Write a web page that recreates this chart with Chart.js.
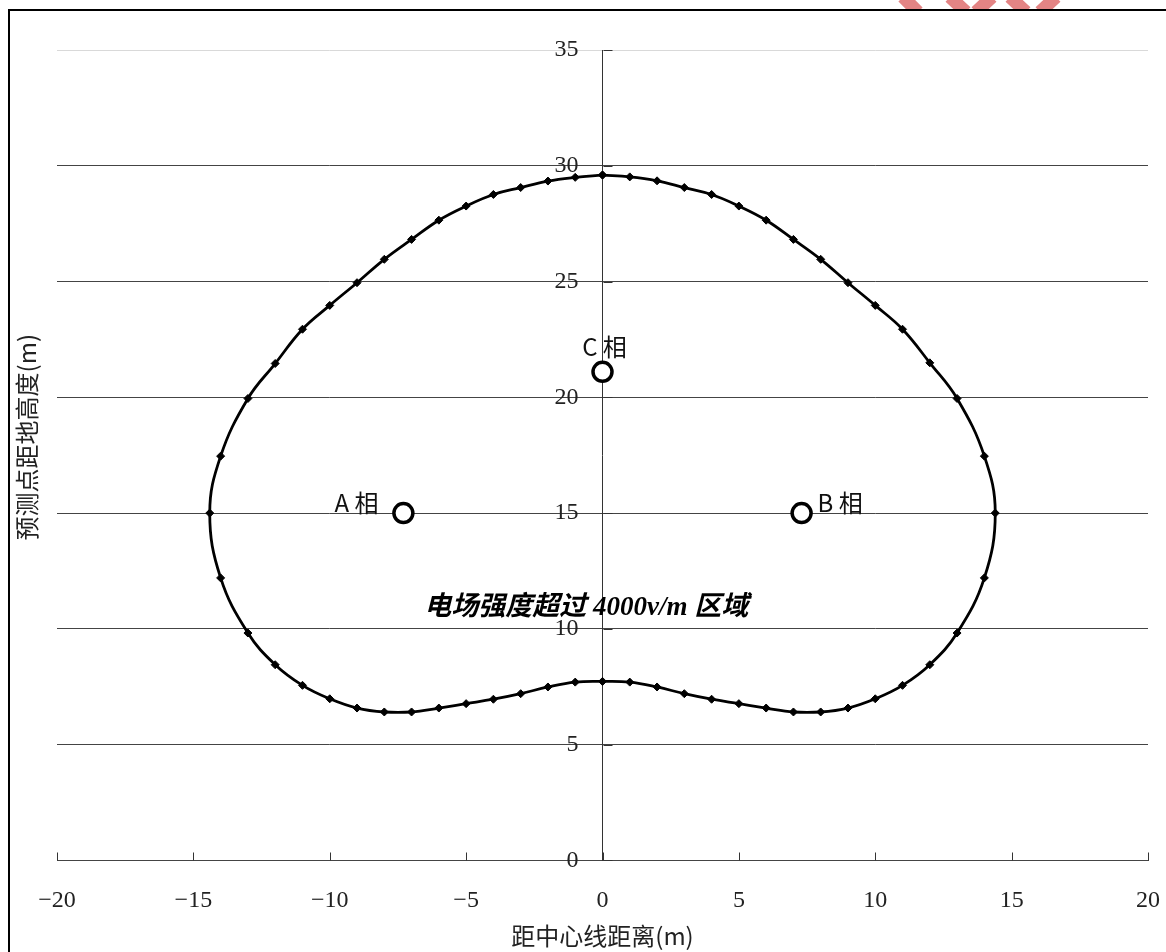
<!DOCTYPE html>
<html lang="zh">
<head>
<meta charset="utf-8">
<title>电场强度超过 4000v/m 区域</title>
<script src="https://cdn.jsdelivr.net/npm/chart.js@4.4.1/dist/chart.umd.min.js"></script>
<style>
    html, body {
        margin: 0;
        padding: 0;
        background: #fff;
        overflow: hidden;
    }

    #contenedor {
        position: relative;
        width: 1166px;
        height: 952px;
    }

    #marco {
        position: absolute;
        left: 8px;
        top: 9px;
        width: 1200px;
        height: 1000px;
        border-left: 2px solid #000;
        border-top: 2px solid #000;
        pointer-events: none;
    }
</style>
</head>
<body>
<div id="contenedor">
    <canvas id="graficaCampo" width="1166" height="952"></canvas>
    <div id="marco"></div>
</div>

<script>

/* ===================================== */
/* DATOS */
/* ===================================== */

// contorno de 4000 v/m, recorrido en orden empezando por arriba
const contornoX = [
    0, 1, 2, 3, 4, 5, 6, 7, 8, 9, 10, 11, 12, 13, 14, 14.4,
    14, 13, 12, 11, 10, 9, 8, 7, 6, 5, 4, 3, 2, 1, 0,
    -1, -2, -3, -4, -5, -6, -7, -8, -9, -10, -11, -12, -13, -14, -14.4,
    -14, -13, -12, -11, -10, -9, -8, -7, -6, -5, -4, -3, -2, -1, 0
];

const contornoY = [
    29.6, 29.52, 29.35, 29.06, 28.76, 28.26, 27.65, 26.82, 25.96, 24.95, 23.97, 22.94, 21.49, 19.95, 17.46, 15.0,
    12.2, 9.82, 8.45, 7.56, 6.98, 6.58, 6.41, 6.41, 6.58, 6.77, 6.96, 7.2, 7.49, 7.7, 7.73,
    7.7, 7.49, 7.2, 6.96, 6.77, 6.58, 6.41, 6.41, 6.58, 6.98, 7.56, 8.45, 9.82, 12.2, 15.0,
    17.46, 19.95, 21.46, 22.94, 23.97, 24.95, 25.96, 26.82, 27.65, 28.26, 28.76, 29.06, 29.34, 29.5, 29.6
];

// posición de los conductores
const faseX = [-7.3, 7.3, 0];
const faseY = [15, 15, 21.1];
const faseNombres = ["A 相", "B 相", "C 相"];

// escalas
const ejeXMin = -20;
const ejeXMax = 20;
const ejeXPaso = 5;
const ejeYMin = 0;
const ejeYMax = 35;
const ejeYPaso = 5;

const tituloX = "距中心线距离(m)";
const tituloY = "预测点距地高度(m)";
const textoZona = "电场强度超过 4000v/m 区域";
const zonaX = -0.6;
const zonaY = 10.9;

/* ===================================== */
/* PLUGIN: marcas, etiquetas y textos */
/* ===================================== */

const pluginDetalles = {

    id: "detalles",

    afterDatasetsDraw(chart) {

        const ctx = chart.ctx;
        const ejeX = chart.scales.x;
        const ejeY = chart.scales.y;
        const area = chart.chartArea;

        const x0 = Math.round(ejeX.getPixelForValue(0)) + 0.5;
        const y0 = Math.round(ejeY.getPixelForValue(0)) + 0.5;

        ctx.save();

        // marcas hacia dentro
        ctx.strokeStyle = "#333";
        ctx.lineWidth = 1;
        ctx.beginPath();

        ejeX.ticks.forEach((t) => {
            const px = Math.round(ejeX.getPixelForValue(t.value)) + 0.5;
            ctx.moveTo(px, y0);
            ctx.lineTo(px, y0 - 8);
        });

        ejeY.ticks.forEach((t) => {
            const py = Math.round(ejeY.getPixelForValue(t.value)) + 0.5;
            ctx.moveTo(x0, py);
            ctx.lineTo(x0 + 9, py);
        });

        ctx.stroke();

        // nombres de las fases
        ctx.fillStyle = "#111";
        ctx.font = "24px 'Noto Sans CJK SC', 'Noto Sans', sans-serif";
        ctx.textBaseline = "alphabetic";

        faseNombres.forEach((nombre, i) => {

            const px = ejeX.getPixelForValue(faseX[i]);
            const py = ejeY.getPixelForValue(faseY[i]);

            if (faseX[i] < 0) {
                ctx.textAlign = "right";
                ctx.fillText(nombre, px - 25, py - 1);
            } else if (faseX[i] > 0) {
                ctx.textAlign = "left";
                ctx.fillText(nombre, px + 16, py - 1);
            } else {
                ctx.textAlign = "center";
                ctx.fillText(nombre, px + 2, py - 16);
            }
        });

        // texto de la zona
        ctx.font = "italic bold 27px 'Liberation Serif', 'Noto Sans CJK SC', serif";
        ctx.textAlign = "center";
        ctx.textBaseline = "middle";
        ctx.fillStyle = "#000";
        ctx.fillText(
            textoZona,
            ejeX.getPixelForValue(zonaX),
            ejeY.getPixelForValue(zonaY)
        );

        // título del eje Y, a la izquierda del marco
        ctx.save();
        ctx.translate(area.left - 30, (area.top + area.bottom) / 2 - 18);
        ctx.rotate(-Math.PI / 2);
        ctx.font = "24px 'Noto Sans CJK SC', sans-serif";
        ctx.fillStyle = "#222";
        ctx.textAlign = "center";
        ctx.textBaseline = "middle";
        ctx.fillText(tituloY, 0, 0);
        ctx.restore();

        ctx.restore();
    },

    afterDraw(chart) {

        // restos de sello rojo sobre el borde superior
        const ctx = chart.ctx;

        ctx.save();
        ctx.beginPath();
        ctx.rect(0, 0, chart.width, 9);
        ctx.clip();

        ctx.strokeStyle = "rgba(222, 110, 110, 0.85)";
        ctx.lineWidth = 13;
        ctx.beginPath();
        ctx.moveTo(903, -3);  ctx.lineTo(918, 12);
        ctx.moveTo(950, -3);  ctx.lineTo(966, 12);
        ctx.moveTo(992, -3);  ctx.lineTo(976, 12);
        ctx.moveTo(1010, -3); ctx.lineTo(1026, 12);
        ctx.moveTo(1056, -3); ctx.lineTo(1040, 12);
        ctx.stroke();

        ctx.restore();
    }
};

/* ===================================== */
/* GRÁFICA */
/* ===================================== */

function dibujarGrafica() {

    const canvas = document.getElementById("graficaCampo");
    const ctx = canvas.getContext("2d");

    const puntosContorno = contornoX.map((x, i) => ({ x: x, y: contornoY[i] }));
    const puntosFase = faseX.map((x, i) => ({ x: x, y: faseY[i] }));

    new Chart(ctx, {

        type: "scatter",

        data: {

            datasets: [

                {
                    label: "fases",
                    data: puntosFase,
                    pointStyle: "circle",
                    pointRadius: 9.5,
                    pointBorderWidth: 3.5,
                    backgroundColor: "#fff",
                    borderColor: "#000",
                    order: 1
                },

                {
                    label: "contorno",
                    data: puntosContorno,
                    showLine: true,
                    tension: 0.4,
                    borderColor: "#000",
                    borderWidth: 2.8,
                    pointStyle: "rectRot",
                    pointRadius: 4,
                    pointBackgroundColor: "#000",
                    pointBorderColor: "#000",
                    pointBorderWidth: 1,
                    fill: false,
                    order: 2
                }
            ]
        },

        options: {

            responsive: false,
            animation: false,
            devicePixelRatio: 1,

            layout: {
                padding: {
                    left: 57,
                    right: 18,
                    top: 50,
                    bottom: 0
                }
            },

            plugins: {
                legend: { display: false },
                tooltip: { enabled: false }
            },

            scales: {

                x: {
                    type: "linear",
                    position: "bottom",
                    min: ejeXMin,
                    max: ejeXMax,

                    // la rejilla vertical no se ve; tickLength sólo separa las etiquetas
                    grid: {
                        display: false,
                        drawTicks: true,
                        tickLength: 26
                    },

                    border: {
                        display: true,
                        color: "#444",
                        width: 1
                    },

                    ticks: {
                        stepSize: ejeXPaso,
                        padding: 0,
                        color: "#222",
                        font: {
                            family: "'Liberation Serif', serif",
                            size: 24
                        },
                        maxRotation: 0,
                        callback: (v) => String(v).replace("-", "\u2212")
                    },

                    title: {
                        display: true,
                        text: tituloX,
                        color: "#222",
                        font: {
                            family: "'Noto Sans CJK SC', sans-serif",
                            size: 24
                        },
                        padding: { top: 6, bottom: 2 }
                    }
                },

                y: {
                    type: "linear",
                    position: { x: 0 },
                    min: ejeYMin,
                    max: ejeYMax,

                    grid: {
                        display: true,
                        drawTicks: false,
                        lineWidth: 1,
                        color: (c) => (c.tick && c.tick.value === ejeYMax) ? "#d9d9d9" : "#444"
                    },

                    border: {
                        display: true,
                        color: "#333",
                        width: 1
                    },

                    ticks: {
                        stepSize: ejeYPaso,
                        padding: 0,
                        color: "#222",
                        font: {
                            family: "'Liberation Serif', serif",
                            size: 24
                        },
                        // el eje centrado no aplica padding: se separa con espacios
                        callback: (v) => v + "    "
                    }
                }
            }
        },

        plugins: [pluginDetalles]
    });
}

dibujarGrafica();

</script>
</body>
</html>
